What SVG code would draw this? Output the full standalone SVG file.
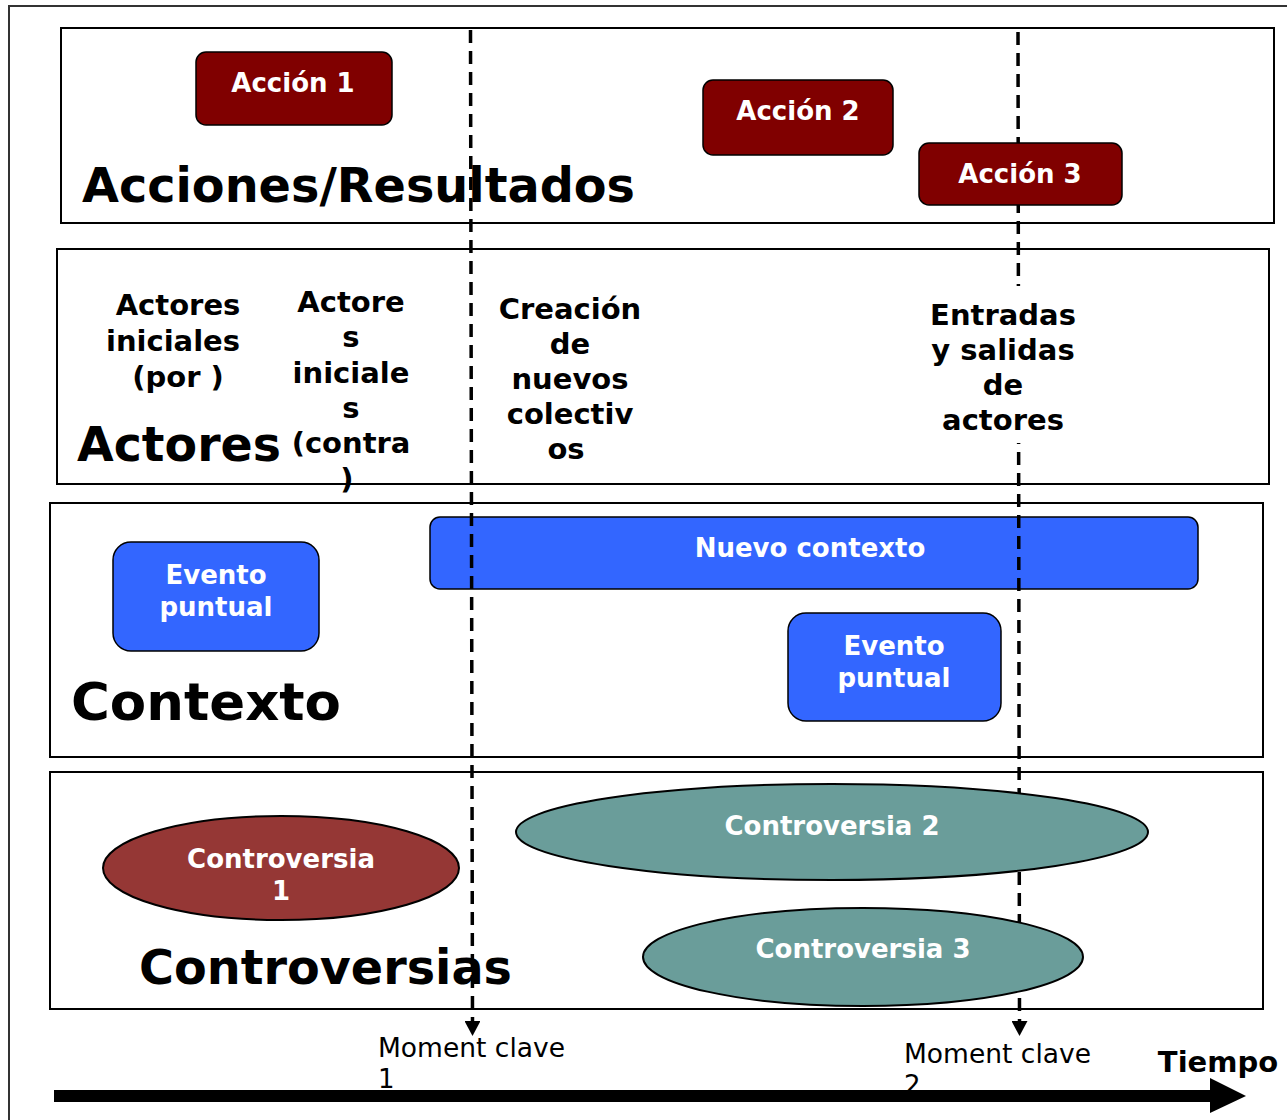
<svg xmlns="http://www.w3.org/2000/svg" width="1287" height="1120" viewBox="0 0 1287 1120">
<style>
.frame{fill:none;stroke:#333;stroke-width:2}
.panel{fill:none;stroke:#000;stroke-width:2}
.act{fill:#800000;stroke:#000;stroke-width:1.5}
.ev{fill:#3366ff;stroke:#000;stroke-width:1.5}
.c1{fill:#953735;stroke:#000;stroke-width:2}
.ct{fill:#6a9d9a;stroke:#000;stroke-width:2}
.wt{fill:#fff;font-family:"DejaVu Sans","Liberation Sans",sans-serif;font-weight:bold;font-size:26px;text-anchor:middle}
.lbl{fill:#000;font-family:"DejaVu Sans","Liberation Sans",sans-serif;font-weight:bold;font-size:29px;text-anchor:middle}
.title{fill:#000;font-family:"DejaVu Sans","Liberation Sans",sans-serif;font-weight:bold;font-size:48px}
.mk{fill:#000;font-family:"DejaVu Sans","Liberation Sans",sans-serif;font-size:26px}
.dash{fill:none;stroke:#000;stroke-width:3.5;stroke-dasharray:13 8}
</style>
<defs>
<marker id="ah" markerUnits="userSpaceOnUse" markerWidth="16" markerHeight="16" viewBox="0 0 16 16" refX="0" refY="8" orient="auto">
<path d="M0,0 L15,8 L0,16 Z" fill="#000"/>
</marker>
</defs>
<rect class="frame" x="9" y="6" width="1290" height="1130"/>
<g id="panel-acciones">
<rect class="panel" x="61" y="28" width="1213" height="195"/>
<text class="title" x="82" y="202" textLength="553" lengthAdjust="spacingAndGlyphs">Acciones/Resultados</text>
</g>
<g id="panel-actores">
<rect class="panel" x="57" y="249" width="1212" height="235"/>
<text class="title" x="77" y="461" textLength="204" lengthAdjust="spacingAndGlyphs">Actores</text>
</g>
<g id="panel-contexto">
<rect class="panel" x="50" y="503" width="1213" height="254"/>
<text class="title" x="71" y="720" textLength="270" lengthAdjust="spacingAndGlyphs" style="font-size:52px">Contexto</text>
</g>
<g id="panel-controversias">
<rect class="panel" x="50" y="772" width="1213" height="237"/>
<text class="title" x="139" y="984" textLength="373" lengthAdjust="spacingAndGlyphs">Controversias</text>
</g>
<g id="accion1">
<rect class="act" x="196" y="52" width="196" height="73" rx="10"/>
<text class="wt" x="293" y="92">Acción 1</text>
</g>
<g id="accion2">
<rect class="act" x="703" y="80" width="190" height="75" rx="10"/>
<text class="wt" x="798" y="120">Acción 2</text>
</g>
<g id="actores-por">
<text class="lbl" x="178" y="315">Actores</text>
<text class="lbl" x="173" y="351">iniciales</text>
<text class="lbl" x="178" y="387">(por )</text>
</g>
<g id="actores-contra">
<text class="lbl" x="351" y="312">Actore</text>
<text class="lbl" x="351" y="347">s</text>
<text class="lbl" x="351" y="383">iniciale</text>
<text class="lbl" x="351" y="418">s</text>
<text class="lbl" x="351" y="453">(contra</text>
<text class="lbl" x="347" y="489">)</text>
</g>
<g id="nuevos-colectivos">
<text class="lbl" x="570" y="319">Creación</text>
<text class="lbl" x="570" y="354">de</text>
<text class="lbl" x="570" y="389">nuevos</text>
<text class="lbl" x="570" y="424">colectiv</text>
<text class="lbl" x="566" y="459">os</text>
</g>
<g id="evento1">
<rect class="ev" x="113" y="542" width="206" height="109" rx="18"/>
<text class="wt" x="216" y="584">Evento</text>
<text class="wt" x="216" y="616">puntual</text>
</g>
<g id="nuevo-contexto">
<rect class="ev" x="430" y="517" width="768" height="72" rx="10"/>
<text class="wt" x="810" y="557">Nuevo contexto</text>
</g>
<g id="evento2">
<rect class="ev" x="788" y="613" width="213" height="108" rx="18"/>
<text class="wt" x="894" y="655">Evento</text>
<text class="wt" x="894" y="687">puntual</text>
</g>
<g id="controversia1">
<ellipse class="c1" cx="281" cy="868" rx="178" ry="52"/>
<text class="wt" x="281" y="868">Controversia</text>
<text class="wt" x="281" y="900">1</text>
</g>
<g id="connectors">
<path class="dash" d="M1018,32 L1019.5,1021" marker-end="url(#ah)"/>
<path class="dash" d="M470.5,30 L472.5,1021" marker-end="url(#ah)"/>
</g>
<g id="accion3">
<rect class="act" x="919" y="143" width="203" height="62" rx="10"/>
<text class="wt" x="1020" y="183">Acción 3</text>
</g>
<g id="entradas-salidas">
<rect x="926" y="286" width="154" height="157" fill="#fff"/>
<text class="lbl" x="1003" y="325">Entradas</text>
<text class="lbl" x="1003" y="360">y salidas</text>
<text class="lbl" x="1003" y="395">de</text>
<text class="lbl" x="1003" y="430">actores</text>
</g>
<g id="controversia2">
<ellipse class="ct" cx="832" cy="832" rx="316" ry="48"/>
<text class="wt" x="832" y="835">Controversia 2</text>
</g>
<g id="controversia3">
<ellipse class="ct" cx="863" cy="957" rx="220" ry="49"/>
<text class="wt" x="863" y="958">Controversia 3</text>
</g>
<g id="moment1">
<text class="mk" x="378" y="1057" textLength="187" lengthAdjust="spacingAndGlyphs">Moment clave</text>
<text class="mk" x="378" y="1088">1</text>
</g>
<g id="moment2">
<text class="mk" x="904" y="1063" textLength="187" lengthAdjust="spacingAndGlyphs">Moment clave</text>
<text class="mk" x="904" y="1094">2</text>
</g>
<g id="tiempo">
<rect x="54" y="1090" width="1158" height="12" fill="#000"/>
<path d="M1210,1078 L1246,1096 L1210,1113 Z" fill="#000"/>
<text class="lbl" x="1218" y="1072">Tiempo</text>
</g>
</svg>
